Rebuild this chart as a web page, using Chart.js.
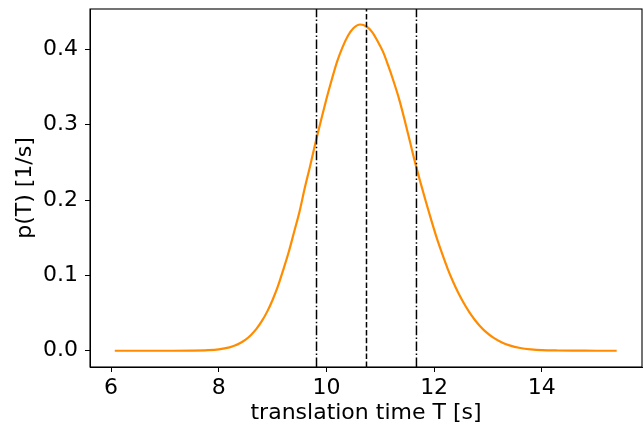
<!DOCTYPE html>
<html><head><meta charset="utf-8">
<script src="https://cdn.jsdelivr.net/npm/chart.js@4.4.1/dist/chart.umd.min.js"></script>
<style>html,body{margin:0;padding:0;background:#fff}#wrap{width:644px;height:428px;position:relative}</style>
</head><body><div id="wrap"><canvas id="c"></canvas></div>
<script>
// translation time T [s]
const timeT = [6.07, 6.5, 7.0, 7.5, 7.8, 8.0, 8.2, 8.3, 8.4, 8.5, 8.6, 8.7, 8.8, 8.9, 9.0, 9.1, 9.2, 9.3, 9.4, 9.5, 9.6, 9.7, 9.8, 9.9, 10.0, 10.1, 10.2, 10.3, 10.4, 10.5, 10.63, 10.75, 10.85, 10.95, 11.05, 11.15, 11.25, 11.35, 11.45, 11.55, 11.65, 11.75, 11.85, 11.95, 12.05, 12.15, 12.25, 12.35, 12.45, 12.55, 12.65, 12.75, 12.85, 12.95, 13.1, 13.25, 13.4, 13.6, 13.8, 14.0, 14.3, 14.7, 15.0, 15.39];
// p(T) [1/s]
const density = [0.0, 0.0, 0.0, 0.0002, 0.0008, 0.0019, 0.0045, 0.0069, 0.0103, 0.0148, 0.021, 0.029, 0.0392, 0.0519, 0.0674, 0.0857, 0.1077, 0.131, 0.1576, 0.1845, 0.2165, 0.246, 0.277, 0.306, 0.334, 0.360, 0.384, 0.403, 0.418, 0.428, 0.433, 0.430, 0.423, 0.411, 0.397, 0.378, 0.357, 0.334, 0.307, 0.278, 0.249, 0.2225, 0.197, 0.1727, 0.1494, 0.1286, 0.109, 0.0919, 0.0766, 0.0633, 0.0515, 0.0415, 0.0329, 0.0257, 0.0173, 0.0113, 0.0071, 0.0036, 0.0018, 0.0008, 0.0003, 0.0001, 0.0, 0.0];
// vertical reference lines: mean - std, mean, mean + std
const lowerLine = 9.816;
const meanLine = 10.744;
const upperLine = 11.672;
const xTicks = [6, 8, 10, 12, 14];
const yTicks = [0.0, 0.1, 0.2, 0.3, 0.4];
const xRange = [5.61, 15.86];
const yRange = [-0.0216, 0.4536];

const FONT = {family: 'DejaVu Sans', size: 22};

function vline(x, dash) {
  return {
    type: 'line',
    data: [{x: x, y: yRange[0]}, {x: x, y: yRange[1]}],
    borderColor: '#000',
    borderWidth: 1.5,
    borderDash: dash,
    pointRadius: 0,
    order: 0
  };
}

const frame = {
  id: 'frame',
  afterDraw(chart) {
    const a = chart.chartArea, ctx = chart.ctx;
    ctx.save();
    ctx.strokeStyle = '#000';
    ctx.lineWidth = 1.1;
    ctx.strokeRect(a.left, a.top, a.right - a.left, a.bottom - a.top);
    ctx.restore();
  }
};

new Chart(document.getElementById('c'), {
  type: 'line',
  data: {
    datasets: [
      vline(lowerLine, [9.6, 2.4, 1.5, 2.4]),
      vline(meanLine, [5.5, 2.4]),
      vline(upperLine, [9.6, 2.4, 1.5, 2.4]),
      {
        type: 'line',
        data: timeT.map((t, i) => ({x: t, y: density[i]})),
        borderColor: '#ff8c00',
        borderWidth: 2.2,
        pointRadius: 0,
        cubicInterpolationMode: 'monotone',
        order: 1
      }
    ]
  },
  options: {
    responsive: true,
    maintainAspectRatio: false,
    animation: false,
    devicePixelRatio: 1,
    layout: {padding: {top: 9, right: 2, left: 0, bottom: 0}},
    plugins: {legend: {display: false}, tooltip: {enabled: false}},
    scales: {
      x: {
        type: 'linear',
        min: xRange[0], max: xRange[1],
        afterBuildTicks: s => { s.ticks = xTicks.map(v => ({value: v})); },
        afterFit: s => { s.height = 61; s.paddingLeft = 0; s.paddingRight = 0; },
        grid: {drawOnChartArea: false, tickLength: 5, color: '#000'},
        border: {display: true, color: '#000'},
        ticks: {color: '#000', font: FONT, padding: 3, maxRotation: 0},
        title: {display: true, text: 'translation time T [s]', color: '#000', font: FONT, padding: {top: 0, bottom: 2}}
      },
      y: {
        type: 'linear',
        min: yRange[0], max: yRange[1],
        afterBuildTicks: s => { s.ticks = yTicks.map(v => ({value: v})); },
        afterFit: s => { s.width = 90; s.paddingTop = 0; s.paddingBottom = 0; },
        grid: {drawOnChartArea: false, tickLength: 5, color: '#000'},
        border: {display: true, color: '#000'},
        ticks: {color: '#000', font: FONT, padding: 7, callback: v => Number(v).toFixed(1)},
        title: {display: true, text: 'p(T) [1/s]', color: '#000', font: FONT, padding: {top: 12, bottom: 0}}
      }
    }
  },
  plugins: [frame]
});
</script>
</body></html>
